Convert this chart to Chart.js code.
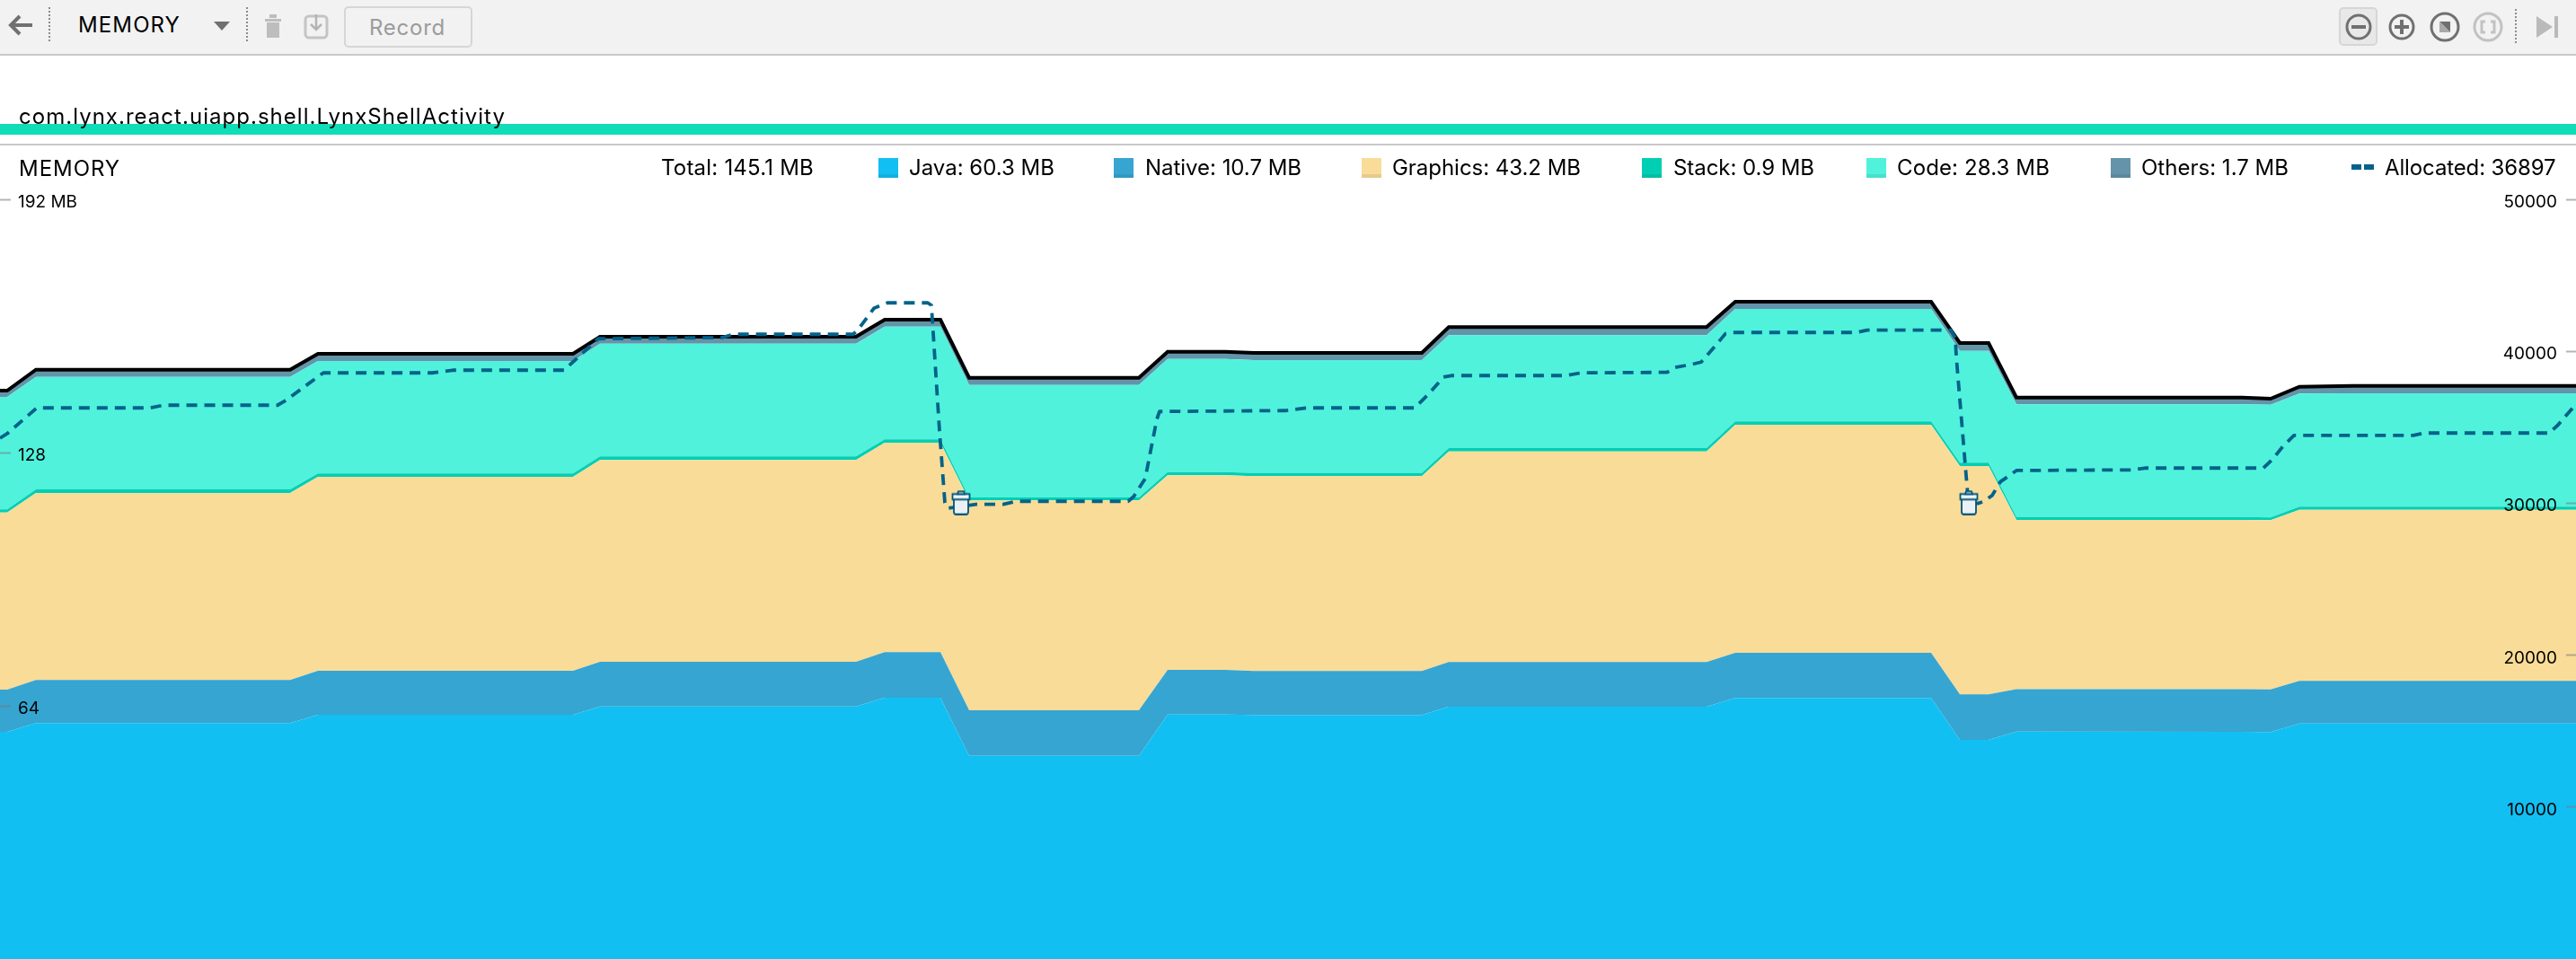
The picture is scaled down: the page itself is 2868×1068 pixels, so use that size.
<!DOCTYPE html>
<html>
<head>
<meta charset="utf-8">
<script src="https://cdn.jsdelivr.net/npm/chart.js@4"></script>
<style>
html,body{margin:0;padding:0;background:#fff;width:2868px;height:1068px;overflow:hidden;font-family:Inter,"Noto Sans",sans-serif;color:#000}
#stage{position:relative;width:2868px;height:1068px;overflow:hidden}
canvas#c{position:absolute;left:0;top:0;z-index:1}
.abs{position:absolute;white-space:nowrap}
#bar{left:0;top:0;width:2868px;height:60px;background:#f2f2f2;border-bottom:2px solid #c8c8c8}
#rule{left:0;top:160px;width:2868px;height:2px;background:#c8c8c8}
#track{left:0;top:138px;width:2868px;height:12px;background:#0fddb8}
.t{font-size:24px;line-height:30px}
.sw{width:22px;height:22px;box-sizing:border-box}
.sep{width:0;border-left:2px dotted #8c8c8c}
#btn{left:383px;top:7px;width:143px;height:46px;box-sizing:border-box;border:2px solid #d6d6d6;border-radius:5px}
#rec{left:411px;top:16px;color:#9b9b9b}
#sel{left:2604px;top:8px;width:43px;height:43px;box-sizing:border-box;background:#e8e8e8;border:2px solid #d6d6d6;border-radius:5px}
svg.abs{overflow:visible}
</style>
</head>
<body>
<div id="stage">
  <div class="abs" id="bar"></div>
  <div class="abs" id="track"></div>
  <div class="abs" id="rule"></div>
  <canvas id="c" width="2868" height="1068"></canvas>
  <div class="abs t fit" data-w="114" style="left:87px;top:13px">MEMORY</div>
  <div class="abs sep" style="left:54px;top:8px;height:38px"></div>
  <div class="abs sep" style="left:274px;top:8px;height:38px"></div>
  <div class="abs sep" style="left:2800px;top:10px;height:38px"></div>
  <div class="abs" id="btn"></div>
  <div class="abs t fit" id="rec" data-w="85">Record</div>
  <div class="abs" id="sel"></div>
  <svg class="abs" style="left:0;top:0;z-index:3" width="2868" height="60" viewBox="0 0 2868 60">
    <path d="M36 28H14M22 18L12 28L22 38" fill="none" stroke="#707070" stroke-width="4"/>
    <path d="M238 24H256L247 34Z" fill="#707070"/>
    <path d="M295 21H313V24H295ZM300 16H308V20H300ZM297 25H311V42H297Z" fill="#bdbdbd"/>
    <rect x="340" y="18" width="24" height="24" rx="4" fill="none" stroke="#c4c4c4" stroke-width="3"/>
    <path d="M352 16V33M346 27L352 33L358 27" fill="none" stroke="#b4b4b4" stroke-width="2.5"/>
    <g fill="none" stroke="#707070" stroke-width="3">
      <circle cx="2626" cy="30" r="13"/><circle cx="2674" cy="30" r="13"/><circle cx="2722" cy="30" r="15"/>
    </g>
    <path d="M2618 28H2634V32H2618ZM2672 22H2676V28H2682V32H2676V38H2672V32H2666V28H2672Z" fill="#707070"/>
    <path d="M2716 24H2728V36Z" fill="#707070"/><path d="M2716 24V36H2728Z" fill="#a8a8a8"/>
    <circle cx="2770" cy="30" r="15" fill="none" stroke="#c2c2c2" stroke-width="3"/>
    <path d="M2767 24H2763V36H2767M2773 24H2777V36H2773" fill="none" stroke="#c2c2c2" stroke-width="3"/>
    <path d="M2824 18L2842 30L2824 42Z" fill="#bababa"/><rect x="2844" y="18" width="4" height="24" fill="#bababa"/>
  </svg>
  <div class="abs t fit" data-w="542" style="left:21px;top:115px;z-index:3">com.lynx.react.uiapp.shell.LynxShellActivity</div>
  <div class="abs t fit" data-w="113" style="left:21px;top:173px;z-index:3">MEMORY</div>
  <div id="legend"></div>
</div>
<script>
// time of each sample in the memory stack
const times = [0,8,40,323,354,638,668,953,985,1047,1079,1268,1300,1364,1396,1583,1613,1900,1932,2150,2182,2214,2245,2496,2528,2560,2619,2868];
// MB per category
const javaMB     = [57.45,57.45,59.65,59.65,61.77,61.77,63.88,63.88,66.08,66.08,51.39,51.39,61.83,61.83,61.70,61.70,63.81,63.81,66.01,66.01,55.41,55.41,57.52,57.45,57.38,59.56,59.56,59.56];
const nativeMB   = [10.67,10.67,10.90,10.90,11.13,11.13,11.29,11.29,11.51,11.51,11.51,11.51,11.29,11.29,11.13,11.13,11.29,11.29,11.42,11.42,11.51,11.51,10.72,10.79,10.81,10.76,10.76,10.76];
const graphicsMB = [44.80,44.80,47.30,47.30,49.05,49.05,51.02,51.02,52.98,52.98,53.07,53.07,49.21,49.21,49.28,49.28,53.27,53.27,57.68,57.68,57.75,57.75,42.80,42.80,42.78,43.28,43.28,43.28];
const stackMB    = [0.77,0.77,0.91,0.91,0.84,0.84,0.91,0.91,0.84,0.84,0.75,0.75,0.82,0.82,0.82,0.82,0.84,0.84,0.84,0.84,0.84,0.84,0.75,0.75,0.68,0.77,0.77,0.77];
const codeMB     = [28.45,28.45,28.45,28.45,28.45,28.45,28.52,28.52,28.52,28.52,28.45,28.45,28.61,28.61,28.54,28.54,28.54,28.54,28.45,28.45,28.29,28.29,28.48,28.48,28.52,28.61,28.68,28.68];
const othersMB   = [1.59,1.59,1.82,1.82,1.82,1.82,1.75,1.75,1.75,1.75,1.82,1.82,1.82,1.82,1.82,1.82,2.04,2.04,1.82,1.82,1.98,1.98,1.73,1.73,1.52,1.73,1.88,1.88];
// allocated object count
const allocTimes = [0,8,41,167,182,309,317,360,481,504,628,666,804,816,950,957,973,985,988,1033,1037,1046,1052,1055,1087,1117,1132,1256,1262,1275,1288,1291,1431,1454,1575,1591,1607,1616,1744,1760,1856,1865,1884,1894,1910,1921,1929,2067,2079,2172,2177,2178,2190,2192,2202,2209,2218,2227,2245,2375,2388,2520,2530,2542,2554,2687,2699,2838,2848,2868];
const allocated  = [34301,34597,36294,36294,36472,36472,36744,38601,38601,38778,38778,40848,40925,41144,41144,41575,42859,43155,43214,43214,43054,34774,30043,29688,29943,29943,30144,30144,30439,31640,35561,36058,36117,36294,36294,37240,38323,38423,38423,38601,38636,38956,39168,39310,40393,41179,41262,41262,41416,41416,40883,39701,31125,30043,30002,30144,30534,31421,32172,32214,32332,32332,32899,33787,34479,34479,34638,34638,35171,36549];
// garbage collection events
const gcTimes = [1070,2192];
const gcLevels = [30060,30060];
// legend and axis text
const legendTotal = "Total: 145.1 MB";
const legendNames = ["Java: 60.3 MB","Native: 10.7 MB","Graphics: 43.2 MB","Stack: 0.9 MB","Code: 28.3 MB","Others: 1.7 MB"];
const legendAllocated = "Allocated: 36897";
const leftTicks = [64,128,192];
const rightTicks = [10000,20000,30000,40000,50000];

const colors = {java:'#12bff3',native:'#36a5d1',graphics:'#f9dc98',stack:'#00cfb4',code:'#50f2dc',others:'#6494a9',line:'#04628a'};

function pts(xs,ys){return xs.map((x,i)=>({x,y:ys[i]}));}
function layer(label,values,color,fill,extra){
  return Object.assign({label,data:pts(times,values),yAxisID:'y',backgroundColor:color,borderColor:color,borderWidth:0,fill,pointRadius:0,tension:0,borderJoinStyle:'miter'},extra||{});
}
// trash-can marker
const gcIcon=document.createElement('canvas');gcIcon.width=22;gcIcon.height=28;
(function(){const g=gcIcon.getContext('2d');g.strokeStyle='#00557a';g.lineWidth=1.8;g.fillStyle='#eaf0f4';
  g.beginPath();g.roundRect(3,7,16,20,2.5);g.fill();g.stroke();
  g.fillStyle='#f4f7f9';g.beginPath();g.rect(1.5,4.5,19,6);g.fill();g.stroke();
  g.beginPath();g.moveTo(7,4.5);g.lineTo(8,1.5);g.lineTo(14,1.5);g.lineTo(15,4.5);g.closePath();g.fill();g.stroke();})();

function flat(s){s.width=0;s.paddingTop=0;s.paddingBottom=0;s.paddingLeft=0;s.paddingRight=0;}
const tickFont={family:'Inter,"Noto Sans",sans-serif',size:19};
function keep(list){return s=>{s.ticks=s.ticks.filter(t=>list.includes(t.value));};}

new Chart(document.getElementById('c'),{
  type:'line',
  data:{datasets:[
    layer('Java',javaMB,colors.java,'origin'),
    layer('Native',nativeMB,colors.native,'-1'),
    layer('Graphics',graphicsMB,colors.graphics,'-1'),
    layer('Stack',stackMB,colors.stack,'-1'),
    layer('Code',codeMB,colors.code,'-1'),
    layer('Others',othersMB,colors.others,'-1',{borderColor:'#000',borderWidth:4}),
    {label:'Allocated',data:pts(allocTimes,allocated),yAxisID:'y1',borderColor:colors.line,borderWidth:3.8,borderDash:[12,8],fill:false,pointRadius:0,tension:0,order:-2,borderJoinStyle:'round'},
    {label:'GC',data:pts(gcTimes,gcLevels),yAxisID:'y1',showLine:false,pointStyle:gcIcon,pointRadius:12,order:-3}
  ]},
  options:{
    responsive:false,animation:false,devicePixelRatio:1,
    layout:{autoPadding:false,padding:{top:222.5,left:0,right:0,bottom:0}},
    plugins:{legend:{display:false},tooltip:{enabled:false}},
    scales:{
      x:{type:'linear',min:0,max:2868,display:false},
      y:{position:'left',stacked:true,min:0,max:192,afterBuildTicks:keep(leftTicks),afterFit:flat,
         border:{display:false},
         grid:{drawOnChartArea:false,z:1,tickLength:-12,tickColor:'rgba(120,120,120,.55)',tickWidth:2},
         ticks:{mirror:true,z:1,padding:20,labelOffset:3,stepSize:64,autoSkip:false,color:'#000',font:tickFont,callback:v=>v===192?v+' MB':String(v)}},
      y1:{position:'right',min:0,max:50000,afterBuildTicks:keep(rightTicks),afterFit:flat,
         border:{display:false},
         grid:{drawOnChartArea:false,z:1,tickLength:-11,tickColor:'rgba(120,120,120,.55)',tickWidth:2},
         ticks:{mirror:true,z:1,padding:-21,labelOffset:3,stepSize:10000,autoSkip:false,color:'#000',font:tickFont,callback:v=>String(v)}}
    }
  }
});

// legend row
(function(){
  const host=document.getElementById('legend');
  function text(str,left,w){const d=document.createElement('div');d.className='abs t fit';d.dataset.w=w;d.style.cssText+='left:'+left+'px;top:172px;z-index:3';d.textContent=str;host.appendChild(d);}
  function swatch(c,left){const d=document.createElement('div');d.className='abs sw';d.style.cssText+='left:'+left+'px;top:176px;z-index:3;background:'+c+';border-bottom:4px solid rgba(0,0,0,.08)';host.appendChild(d);}
  text(legendTotal,736,170);
  const swatchLeft=[978,1240,1516,1828,2078,2350];
  const textLeft=[1012,1275,1550,1863,2112,2384];
  const widths=[162,174,210,157,170,164];
  const sw=[colors.java,colors.native,colors.graphics,colors.stack,colors.code,colors.others];
  legendNames.forEach((n,i)=>{swatch(sw[i],swatchLeft[i]);text(n,textLeft[i],widths[i]);});
  const dash=(l)=>{const d=document.createElement('div');d.className='abs';d.style.cssText='left:'+l+'px;top:183px;width:10.5px;height:6px;background:'+colors.line+';z-index:3';host.appendChild(d);};
  dash(2618);dash(2632);
  text(legendAllocated,2655,190.5);
  document.querySelectorAll('.fit').forEach(e=>{
    const m=e.getBoundingClientRect().width;
    e.style.letterSpacing=((+e.dataset.w-m)/e.textContent.length)+'px';
  });
})();
</script>
</body>
</html>
